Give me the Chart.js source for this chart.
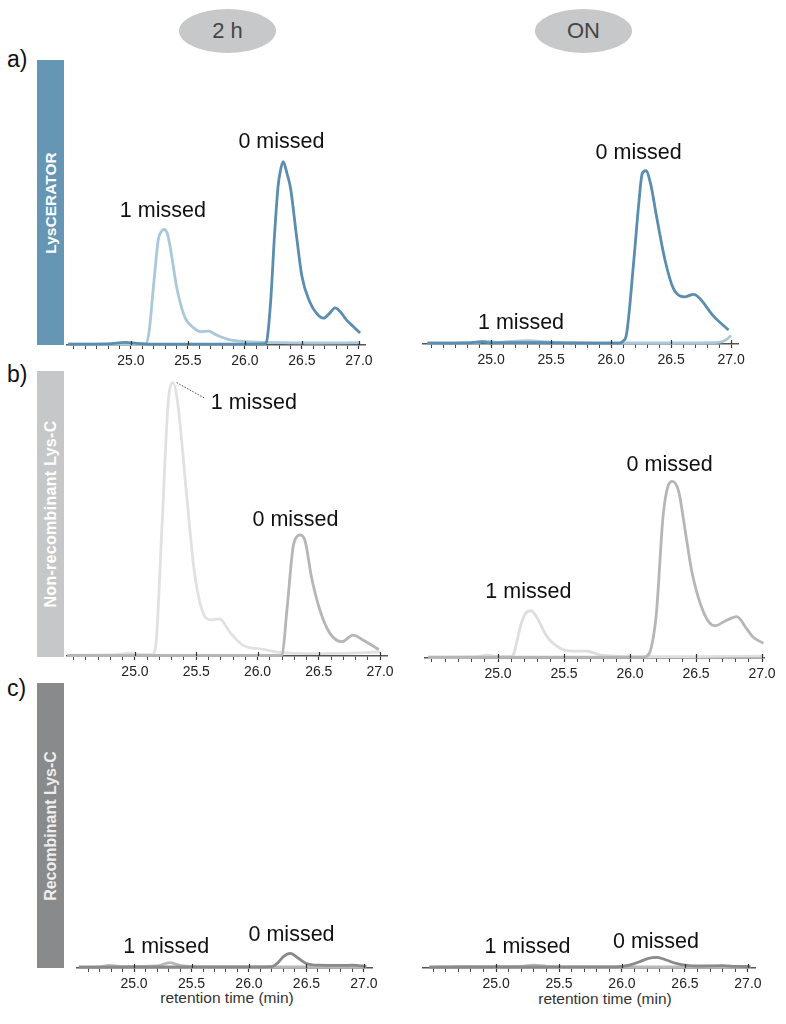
<!DOCTYPE html>
<html>
<head>
<meta charset="utf-8">
<script src="https://cdn.jsdelivr.net/npm/chart.js@4.4.1/dist/chart.umd.min.js"></script>
<style>
  body { margin: 0; background: #fff; font-family: "Liberation Sans", Arial, sans-serif; }
  #page { position: relative; width: 786px; height: 1024px; overflow: hidden; }
  .pill { position: absolute; width: 97px; height: 44px; top: 9px; background: #c7c8ca; border-radius: 50%;
          color: #454545; font-size: 22px; display: flex; align-items: center; justify-content: center; }
  .bar { position: absolute; left: 37px; width: 27px; }
  .bar span { position: absolute; left: 50%; top: 50%; transform: translate(-50%, -50%) rotate(-90deg);
              white-space: nowrap; color: #fff; font-weight: bold; font-size: 16px; }
  .row { position: absolute; left: 7px; font-size: 23px; line-height: 1; color: #111; }
  .xtitle { position: absolute; width: 200px; text-align: center; font-size: 15.5px; line-height: 18px; color: #333; }
  canvas { position: absolute; }
</style>
</head>
<body>
<div id="page">
  <div class="pill" style="left:179px">2 h</div>
  <div class="pill" style="left:535px">ON</div>

  <div class="row" style="top:48px">a)</div>
  <div class="row" style="top:363px">b)</div>
  <div class="row" style="top:677px">c)</div>

  <div class="bar" style="top:60px;height:285px;background:#6596b4"><span style="font-size:15.5px">LysCERATOR</span></div>
  <div class="bar" style="top:371px;height:286px;background:#c6c7c8"><span style="letter-spacing:0.3px">Non-recombinant Lys-C</span></div>
  <div class="bar" style="top:683px;height:285px;background:#898a8b"><span style="color:#eee">Recombinant Lys-C</span></div>

  <div class="xtitle" style="left:127px;top:989px">retention time (min)</div>
  <div class="xtitle" style="left:505px;top:990px">retention time (min)</div>
</div>

<script>
// x axis ticks (retention time, min)
const minorTicks = [24.5, 24.6, 24.7, 24.8, 24.9, 25.0, 25.1, 25.2, 25.3, 25.4, 25.5, 25.6, 25.7,
                    25.8, 25.9, 26.0, 26.1, 26.2, 26.3, 26.4, 26.5, 26.6, 26.7, 26.8, 26.9, 27.0];
const majorTicks = [25.0, 25.5, 26.0, 26.5, 27.0];

// a) LysCERATOR, 2 h
const a2hZeroX = [24.45, 24.8, 24.95, 25.05, 25.2, 26.0, 26.17, 26.19, 26.225, 26.26, 26.29, 26.31, 26.335,
                  26.37, 26.40, 26.45, 26.50, 26.57, 26.63, 26.69, 26.74, 26.79, 26.84, 26.89, 26.95, 27.01];
const a2hZeroY = [0.3, 0.4, 0.9, 0.6, 0.3, 0.3, 0.4, 1.2, 15, 39, 55.5, 61, 64.3,
                  60, 55, 39, 24, 15, 11, 9.4, 11, 13, 11.5, 8.8, 6.5, 4.2];
const a2hOneX = [24.45, 25.0, 25.13, 25.16, 25.20, 25.24, 25.27, 25.29, 25.32, 25.35, 25.40, 25.47,
                 25.55, 25.61, 25.68, 25.75, 25.87, 26.0, 26.3, 26.6, 27.01];
const a2hOneY = [0.3, 0.3, 0.4, 5, 21.6, 37, 40, 40.6, 39, 33, 20.5, 10,
                 6, 4.7, 4.9, 3.5, 1.8, 1.2, 0.8, 0.7, 0.8];

// a) LysCERATOR, overnight
const aOnZeroX = [24.47, 24.8, 24.92, 25.0, 25.3, 25.6, 25.9, 26.07, 26.1, 26.13, 26.19, 26.23, 26.26,
                  26.29, 26.33, 26.38, 26.45, 26.52, 26.61, 26.69, 26.74, 26.85, 26.98];
const aOnZeroY = [0.3, 0.4, 0.8, 0.4, 0.5, 0.4, 0.3, 0.3, 1, 3.7, 29.5, 49, 60,
                  61, 56.4, 44.7, 29.5, 19.5, 16.6, 17.5, 16, 10, 4.9];
const aOnOneX = [24.47, 24.9, 24.95, 25.05, 25.3, 25.5, 26.0, 26.5, 26.9, 26.96, 27.0];
const aOnOneY = [0.4, 0.6, 1.0, 0.6, 1.2, 0.6, 0.4, 0.4, 0.6, 1.5, 3];

// b) Non-recombinant Lys-C, 2 h
const b2hZeroX = [24.45, 25.5, 26.18, 26.2, 26.24, 26.29, 26.32, 26.35, 26.39, 26.44, 26.51, 26.59,
                  26.69, 26.78, 26.86, 26.99];
const b2hZeroY = [0.2, 0.2, 0.2, 0.4, 16, 38, 41.7, 42.3, 40, 27.7, 16, 8,
                  5, 7.3, 5.6, 2.3];
const b2hOneX = [24.45, 24.85, 24.95, 25.05, 25.14, 25.17, 25.22, 25.27, 25.31, 25.35, 25.42, 25.48,
                 25.54, 25.61, 25.69, 25.78, 25.88, 26.05, 26.18, 26.5, 26.9, 27.0];
const b2hOneY = [0.3, 0.5, 1, 0.5, 0.5, 3.8, 45, 88, 95.6, 88, 57, 31,
                 17, 12.6, 13, 8, 3.8, 2.3, 1.3, 0.8, 1.2, 1.5];

// b) Non-recombinant Lys-C, overnight
const bOnZeroX = [24.47, 25.5, 26.1, 26.13, 26.16, 26.2, 26.25, 26.29, 26.32, 26.37, 26.42, 26.47,
                  26.56, 26.64, 26.74, 26.81, 26.88, 26.93, 27.01];
const bOnZeroY = [0.3, 0.3, 0.3, 0.7, 3.4, 15.6, 49, 60, 61.3, 57.6, 43.6, 29.6,
                  15.6, 11.2, 13.3, 14.4, 10.4, 7.4, 5.1];
const bOnOneX = [24.47, 24.85, 24.92, 25.0, 25.1, 25.12, 25.17, 25.21, 25.25, 25.29, 25.37, 25.47,
                 25.57, 25.67, 25.78, 26.0, 26.5, 27.01];
const bOnOneY = [0.3, 0.5, 1, 0.5, 0.6, 1.6, 11, 15.6, 16.4, 14.4, 7.5, 3.4,
                 2.4, 2.4, 1, 0.5, 0.5, 0.6];

// c) Recombinant Lys-C, 2 h
const c2hZeroX = [24.52, 25.0, 25.5, 26.0, 26.2, 26.25, 26.30, 26.36, 26.43, 26.50, 26.6, 26.8, 26.9, 27.02];
const c2hZeroY = [0.3, 0.4, 0.4, 0.4, 0.5, 1.8, 4, 5.1, 3.4, 1.6, 1.0, 0.9, 1.0, 0.6];
const c2hOneX = [24.52, 24.7, 24.78, 24.9, 25.2, 25.31, 25.42, 25.6, 26.0, 26.5, 27.02];
const c2hOneY = [0.4, 0.5, 0.9, 0.5, 0.7, 1.9, 0.7, 0.4, 0.4, 0.4, 0.4];

// c) Recombinant Lys-C, overnight
const cOnZeroX = [24.47, 25.0, 25.5, 25.9, 26.0, 26.06, 26.14, 26.21, 26.28, 26.35, 26.43, 26.5,
                  26.6, 26.8, 26.9, 27.02];
const cOnZeroY = [0.3, 0.4, 0.4, 0.4, 0.6, 1, 2.2, 3.4, 3.7, 2.8, 1.6, 1,
                  0.7, 0.8, 0.6, 0.5];
const cOnOneX = [24.47, 24.7, 24.9, 25.2, 25.3, 25.4, 25.6, 26.0, 26.5, 27.02];
const cOnOneY = [0.4, 0.6, 0.5, 0.6, 1.0, 0.6, 0.4, 0.4, 0.4, 0.4];

const PAD_L = 10, PAD_R = 20, AXIS_H = 30;

const panels = [
  { left: 67, right: 365, top: 60, axis: 345, min: 24.439, max: 27.053,
    series: [[a2hZeroX, a2hZeroY, '#5a8db0'], [a2hOneX, a2hOneY, '#a9c9d9']],
    notes: [['1 missed', 25.28, 47], ['0 missed', 26.32, 71.2]] },
  { left: 423, right: 738, top: 60, axis: 344, min: 24.433, max: 27.058,
    series: [[aOnZeroX, aOnZeroY, '#5a8db0'], [aOnOneX, aOnOneY, '#a9c9d9']],
    notes: [['0 missed', 26.23, 67.3], ['1 missed', 25.25, 7.4]] },
  { left: 67, right: 387, top: 370, axis: 656, min: 24.445, max: 27.057,
    series: [[b2hZeroX, b2hZeroY, '#b6b6b6'], [b2hOneX, b2hOneY, '#e1e1e1']],
    notes: [['1 missed', 25.97, 88.5], ['0 missed', 26.31, 47.6]],
    leader: [25.34, 95.6, 25.57, 90.1] },
  { left: 425, right: 764, top: 370, axis: 658, min: 24.447, max: 27.015,
    series: [[bOnZeroX, bOnZeroY, '#b6b6b6'], [bOnOneX, bOnOneY, '#dedede']],
    notes: [['0 missed', 26.30, 67], ['1 missed', 25.23, 22.9]] },
  { left: 77, right: 372, top: 683, axis: 968, min: 24.504, max: 27.07,
    series: [[c2hZeroX, c2hZeroY, '#8a8a8a'], [c2hOneX, c2hOneY, '#b8b8b8']],
    notes: [['1 missed', 25.28, 7.4], ['0 missed', 26.37, 11.6]] },
  { left: 423, right: 755, top: 683, axis: 968, min: 24.42, max: 27.056,
    series: [[cOnZeroX, cOnZeroY, '#8a8a8a'], [cOnOneX, cOnOneY, '#b8b8b8']],
    notes: [['1 missed', 25.25, 7.4], ['0 missed', 26.27, 9.1]] },
];

const isMajor = (v) => majorTicks.some((m) => Math.abs(m - v) < 1e-6);

// upper half of the major ticks, peak labels and the dotted leader
const notesPlugin = {
  id: 'notes',
  afterDraw(chart, args, opts) {
    const { ctx, chartArea, scales: { x, y } } = chart;
    ctx.save();
    ctx.strokeStyle = '#333';
    ctx.lineWidth = 1.2;
    majorTicks.forEach((v) => {
      const px = Math.round(x.getPixelForValue(v)) + 0.5;
      ctx.beginPath();
      ctx.moveTo(px, chartArea.bottom - 4);
      ctx.lineTo(px, chartArea.bottom);
      ctx.stroke();
    });
    if (opts.leader) {
      const [x0, y0, x1, y1] = opts.leader;
      ctx.setLineDash([1.5, 1.5]);
      ctx.lineWidth = 1;
      ctx.strokeStyle = '#444';
      ctx.beginPath();
      ctx.moveTo(x.getPixelForValue(x0), y.getPixelForValue(y0));
      ctx.lineTo(x.getPixelForValue(x1), y.getPixelForValue(y1));
      ctx.stroke();
      ctx.setLineDash([]);
    }
    ctx.font = '21.5px "Liberation Sans", Arial, sans-serif';
    ctx.fillStyle = '#111';
    ctx.textAlign = 'center';
    ctx.textBaseline = 'middle';
    (opts.items || []).forEach(([text, vx, vy]) => {
      ctx.fillText(text, x.getPixelForValue(vx), y.getPixelForValue(vy));
    });
    ctx.restore();
  },
};

const page = document.getElementById('page');

const createChart = (p) => {
  const canvas = document.createElement('canvas');
  const w = p.right - p.left + PAD_L + PAD_R;
  const h = p.axis - p.top + AXIS_H;
  canvas.width = w;
  canvas.height = h;
  canvas.style.left = (p.left - PAD_L) + 'px';
  canvas.style.top = p.top + 'px';
  canvas.style.width = w + 'px';
  canvas.style.height = h + 'px';
  page.appendChild(canvas);

  return new Chart(canvas, {
    type: 'line',
    data: {
      datasets: p.series.map(([xs, ys, color]) => ({
        data: xs.map((v, i) => ({ x: v, y: ys[i] })),
        borderColor: color,
        borderWidth: 2.8,
        pointRadius: 0,
        cubicInterpolationMode: 'monotone',
        fill: false,
        clip: false,
      })),
    },
    options: {
      responsive: false,
      animation: false,
      layout: { padding: { left: PAD_L, right: PAD_R, top: 0, bottom: 0 } },
      plugins: {
        legend: { display: false },
        tooltip: { enabled: false },
        notes: { items: p.notes, leader: p.leader },
      },
      scales: {
        x: {
          type: 'linear',
          min: p.min,
          max: p.max,
          afterBuildTicks: (s) => {
            s.ticks = minorTicks.filter((v) => v >= s.min - 1e-9 && v <= s.max + 1e-9).map((v) => ({ value: v }));
          },
          afterFit: (s) => { s.height = AXIS_H; },
          ticks: {
            autoSkip: false,
            maxRotation: 0,
            padding: 4,
            color: '#222',
            font: { family: '"Liberation Sans", Arial, sans-serif', size: 14 },
            callback: (v) => (isMajor(v) ? v.toFixed(1) : ''),
          },
          grid: {
            drawOnChartArea: false,
            drawTicks: true,
            tickLength: 4,
            tickColor: '#333',
            tickWidth: (c) => (c.tick && isMajor(c.tick.value) ? 1.2 : 0.9),
          },
          border: { display: true, color: '#555', width: 1.5 },
        },
        y: { display: false, min: 0, max: 100 },
      },
    },
    plugins: [notesPlugin],
  });
};

panels.forEach(createChart);
</script>
</body>
</html>
